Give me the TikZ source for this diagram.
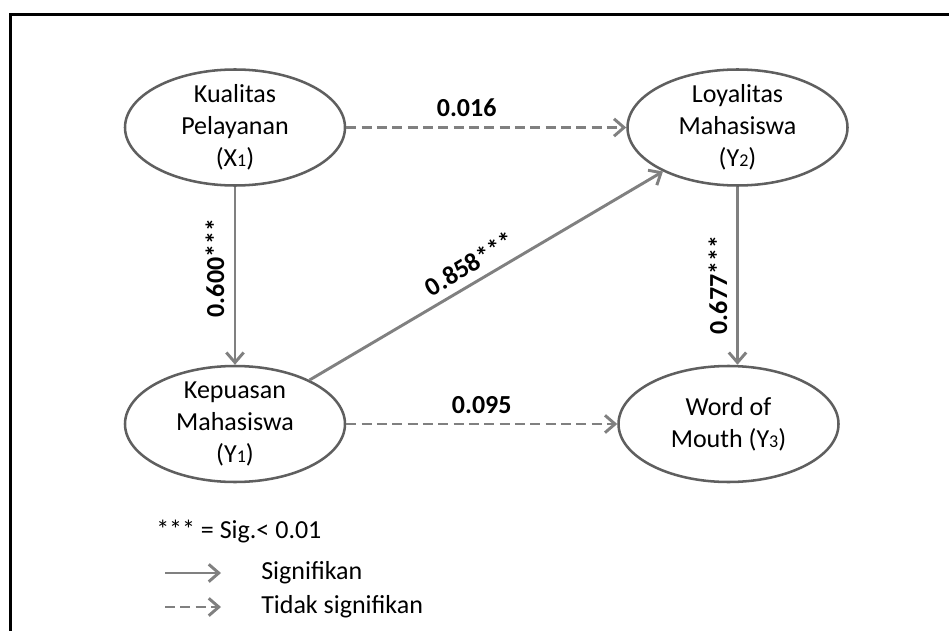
\documentclass[tikz,border=0pt]{standalone}
\usepackage{fontspec}
\setmainfont{Carlito}
\usepackage{tikz}
\usetikzlibrary{shapes.geometric}
\usetikzlibrary{arrows.meta}
\usetikzlibrary{positioning}

\definecolor{arrowgray}{RGB}{128,128,128}
\definecolor{rimgray}{RGB}{95,95,95}
\newcommand{\subidx}[1]{{\fontsize{13.5}{13.5}\selectfont #1}}

\tikzset{
    latent/.style={draw=rimgray, line width=1.9pt, ellipse, minimum width=165pt, minimum height=87pt, inner sep=0pt},
    vartext/.style={align=center, font=\fontsize{19.5}{24}\selectfont, inner sep=0.75pt},
    sig/.style={draw=arrowgray, line width=2.2pt, -{Straight Barb[length=7.5pt,width=13pt]}},
    nsig/.style={sig, dash pattern=on 7.5pt off 4pt},
    coef/.style={font=\fontsize{19.5}{24}\selectfont\bfseries, inner sep=0.75pt},
    legtext/.style={anchor=west, font=\fontsize{19.5}{24}\selectfont, inner sep=0.75pt},
}

\begin{document}
\begin{tikzpicture}[x=0.75pt,y=0.75pt,yscale=-1,xscale=1]
        \useasboundingbox (0,0) rectangle (949,631);

        %Straight Lines (frame)
        \draw [line width=2.25pt] (10,631) -- (10,15) -- (949,15) ;

        %Shape: Ellipse
        \node [latent] (x1) at (235,127.5) {};
        \node [vartext] (x1t) at (x1) {Kualitas\\Pelayanan\\(X\subidx{1})};
        %Shape: Ellipse
        \node [latent] (y2) at (737.5,127.5) {};
        \node [vartext] (y2t) at (y2) {Loyalitas\\Mahasiswa\\(Y\subidx{2})};
        %Shape: Ellipse
        \node [latent] (y1) at (235,424) {};
        \node [vartext] (y1t) at (y1) {Kepuasan\\Mahasiswa\\(Y\subidx{1})};
        %Shape: Ellipse
        \node [latent] (y3) at (728.5,424) {};
        \node [vartext] (y3t) at (y3) {Word of\\Mouth (Y\subidx{3})};

        %Straight Lines
        \draw [nsig] (x1) -- node [coef, above=6pt, pos=0.43] (c016) {0.016} (y2) ;
        \draw [sig] (x1) -- (y1) ;
        \draw [sig] (y1) -- node [coef, rotate=31, anchor=south, inner ysep=6pt, pos=0.48] (c858) {0.858***} (y2) ;
        \draw [sig] (y2.south) -- (y2.south |- y3.north) ;
        \draw [nsig] (y1) -- node [coef, above=6pt, pos=0.5] (c095) {0.095} (y3) ;

        % Text Node
        \node [coef, rotate=90] (c600) at (215,268) {0.600***};
        % Text Node
        \node [coef, rotate=90] (c677) at (718,285) {0.677***};

        % Legend
        \node [legtext] (lsig) at (155,532) {*** = Sig.< 0.01};
        \coordinate (sa) at (165,573);
        \coordinate (sb) at (221,573);
        \coordinate (na) at (165,607);
        \coordinate (nb) at (221,607);
        \draw [sig] (sa) -- (sb) ;
        \draw [nsig] (na) -- (nb) ;
        \node [legtext] (lyes) at (260,573) {Signifikan};
        \node [legtext] (lno) at (260,607) {Tidak signifikan};
\end{tikzpicture}
\end{document}
